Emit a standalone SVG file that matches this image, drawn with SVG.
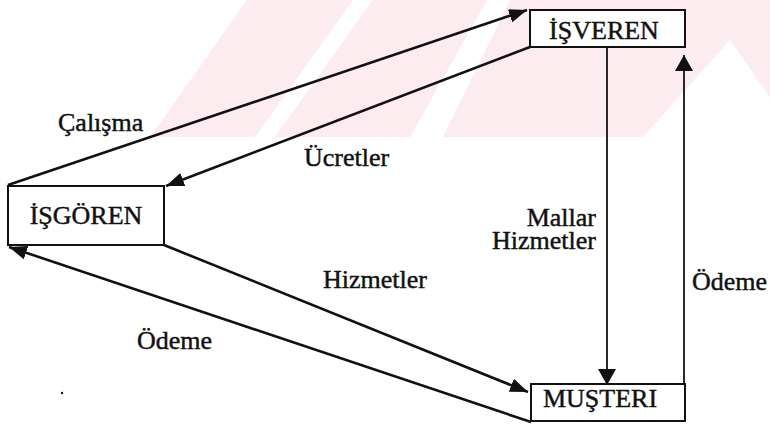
<svg xmlns="http://www.w3.org/2000/svg" width="770" height="427" viewBox="0 0 770 427">
  <style>
    .box { fill: #ffffff; stroke: #111; stroke-width: 2; }
    .lbl { font-family: "Liberation Serif", "Times New Roman", serif; font-size: 26px; fill: #111; stroke: #111; stroke-width: 0.45; }
    .flow { fill: none; stroke: #111; stroke-width: 2.6; }
    .vflow { fill: none; stroke: #111; stroke-width: 1.8; }
    .wm { fill: #fdecef; }
  </style>
  <defs>
    <marker id="ah" viewBox="0 0 18 14" refX="18" refY="7" markerWidth="18" markerHeight="14" orient="auto" markerUnits="userSpaceOnUse">
      <path d="M0,0 L18,7 L0,14 z" fill="#111"/>
    </marker>
    <marker id="ahv" viewBox="0 0 16 18" refX="16" refY="9" markerWidth="16" markerHeight="18" orient="auto" markerUnits="userSpaceOnUse">
      <path d="M0,0 L16,9 L0,18 z" fill="#111"/>
    </marker>
  </defs>

  <rect width="770" height="427" fill="#ffffff"/>

  <!-- faint striped background band -->
  <g id="background">
    <polygon class="wm" points="247,0 353,0 255,137 150,137"/>
    <polygon class="wm" points="373,0 487,0 410,137 275,137"/>
    <polygon class="wm" points="510,0 770,0 770,97 730,40 643,137 443,137"/>
  </g>

  <g id="connectors">
    <!-- İşgören -> İşveren : Çalışma -->
    <line class="flow" x1="8" y1="185" x2="527" y2="10" marker-end="url(#ah)"/>
    <!-- İşveren -> İşgören : Ücretler -->
    <line class="flow" x1="530" y1="47" x2="166" y2="186" marker-end="url(#ah)"/>
    <!-- İşgören -> Müşteri : Hizmetler -->
    <line class="flow" x1="164" y1="245" x2="528" y2="392" marker-end="url(#ah)"/>
    <!-- Müşteri -> İşgören : Ödeme -->
    <line class="flow" x1="531" y1="422" x2="9" y2="247" marker-end="url(#ah)"/>
    <!-- İşveren -> Müşteri : Mallar / Hizmetler -->
    <line class="vflow" x1="607" y1="47" x2="607" y2="385" marker-end="url(#ahv)"/>
    <!-- Müşteri -> İşveren : Ödeme -->
    <line class="vflow" x1="684" y1="384" x2="684" y2="55" marker-end="url(#ahv)"/>
  </g>

  <g id="isveren">
    <rect class="box" x="530" y="10" width="155" height="37"/>
    <text class="lbl" x="604" y="39" text-anchor="middle">İŞVEREN</text>
  </g>
  <g id="isgoren">
    <rect class="box" x="8" y="186" width="156" height="59"/>
    <text class="lbl" x="86" y="224" text-anchor="middle">İŞGÖREN</text>
  </g>
  <g id="musteri">
    <rect class="box" x="531" y="384" width="154" height="37"/>
    <text class="lbl" x="600" y="407" text-anchor="middle">MUŞTERI</text>
  </g>

  <g id="labels">
    <text class="lbl" x="58" y="131">Çalışma</text>
    <text class="lbl" x="304" y="166">Ücretler</text>
    <text class="lbl" x="596" y="226" text-anchor="end">Mallar</text>
    <text class="lbl" x="596" y="249" text-anchor="end">Hizmetler</text>
    <text class="lbl" x="323" y="288">Hizmetler</text>
    <text class="lbl" x="692" y="290">Ödeme</text>
    <text class="lbl" x="137" y="349">Ödeme</text>
    <circle cx="62" cy="393" r="1.2" fill="#111"/>
  </g>
</svg>
